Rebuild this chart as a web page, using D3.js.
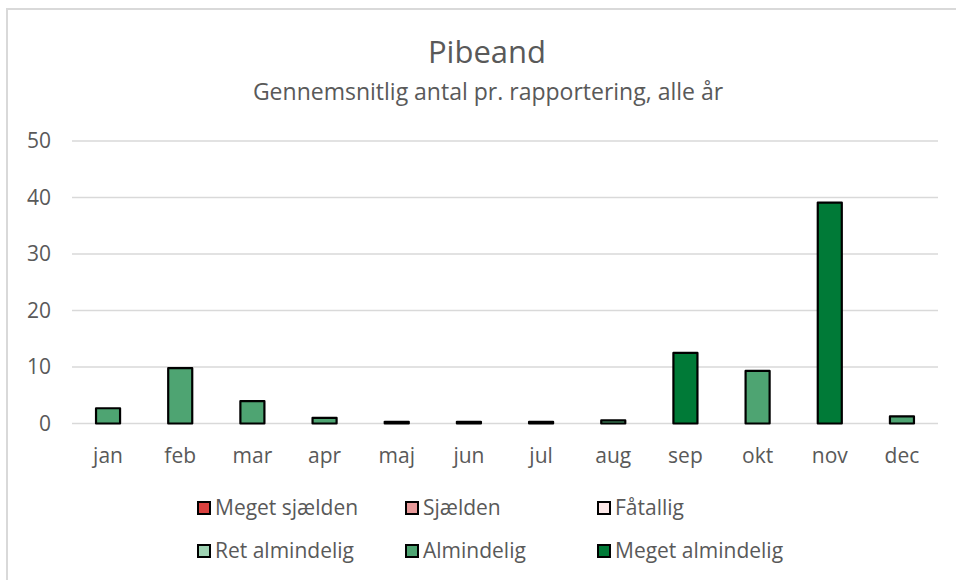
<!DOCTYPE html>
<html>
<head>
<meta charset="utf-8">
<script src="https://cdn.jsdelivr.net/npm/d3@7"></script>
<style>
  html, body { margin: 0; padding: 0; background: #fff; }
  svg { display: block; }
  text { font-family: "Open Sans", "Liberation Sans", sans-serif; fill: #595959; }
</style>
</head>
<body>
<svg id="chart" width="956" height="580"></svg>
<script>
const title = "Pibeand";
const subtitle = "Gennemsnitlig antal pr. rapportering, alle år";
const months = ["jan","feb","mar","apr","maj","jun","jul","aug","sep","okt","nov","dec"];
const values = [2.7, 9.8, 3.95, 1.0, 0.3, 0.3, 0.3, 0.55, 12.5, 9.3, 39.1, 1.25];
const classes = ["Almindelig","Almindelig","Almindelig","Almindelig","Almindelig","Almindelig","Almindelig","Almindelig","Meget almindelig","Almindelig","Meget almindelig","Almindelig"];
const legendNames = ["Meget sjælden","Sjælden","Fåtallig","Ret almindelig","Almindelig","Meget almindelig"];
const legendColors = ["#D9413F","#E89A9A","#FCE8E8","#9FD3B3","#4EA472","#007A37"];
const yTicks = [0,10,20,30,40,50];

const svg = d3.select("#chart");
const colorOf = d3.scaleOrdinal().domain(legendNames).range(legendColors);

// chart area border
svg.append("path").attr("d","M7,580 L7,9 L956,9").attr("fill","none").attr("stroke","#D9D9D9").attr("stroke-width",2);

const x = d3.scaleBand().domain(months).range([72, 938]).paddingInner(0.667).paddingOuter(0.333);
const y = d3.scaleLinear().domain([0, 50]).range([423.5, 141]);

// gridlines
svg.append("g").selectAll("line").data(yTicks).join("line")
  .attr("x1", 72).attr("x2", 938)
  .attr("y1", d => y(d)).attr("y2", d => y(d))
  .attr("stroke", "#D9D9D9").attr("stroke-width", 1.5);

// y labels
svg.append("g").selectAll("text").data(yTicks).join("text")
  .attr("x", 51).attr("y", d => y(d)).attr("dy", "0.35em")
  .attr("text-anchor", "end").attr("font-size", 21).text(d => d);

// bars
svg.append("g").selectAll("rect").data(months).join("rect")
  .attr("x", d => x(d))
  .attr("width", x.bandwidth())
  .attr("y", (d,i) => y(values[i]))
  .attr("height", (d,i) => y(0) - y(values[i]))
  .attr("fill", (d,i) => colorOf(classes[i]))
  .attr("stroke", "#000").attr("stroke-width", 2.2).attr("stroke-linejoin","round");

// x labels
svg.append("g").selectAll("text").data(months).join("text")
  .attr("x", d => x(d) + x.bandwidth()/2).attr("y", 463)
  .attr("text-anchor", "middle").attr("font-size", 21).text(d => d);

// title
svg.append("text").attr("x", 487).attr("y", 63).attr("text-anchor","middle")
  .attr("font-size", 31).text(title);
svg.append("text").attr("x", 488).attr("y", 100).attr("text-anchor","middle")
  .attr("font-size", 23).text(subtitle);

// legend
const colX = [198, 406, 598];
const rowY = [508, 551];
const lg = svg.append("g").selectAll("g").data(legendNames).join("g")
  .attr("transform", (d,i) => `translate(${colX[i%3]},${rowY[Math.floor(i/3)]})`);
lg.append("rect").attr("x", 0).attr("y", -6).attr("width", 12).attr("height", 12)
  .attr("fill", d => colorOf(d)).attr("stroke", "#000").attr("stroke-width", 2);
lg.append("text").attr("x", 17).attr("y", 0).attr("dy", "0.35em").attr("font-size", 21).text(d => d);
</script>
</body>
</html>
